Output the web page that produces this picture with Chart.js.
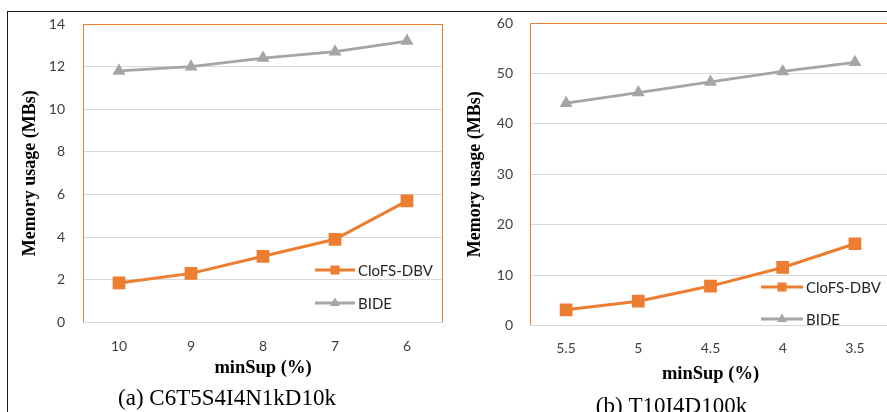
<!DOCTYPE html>
<html>
<head>
<meta charset="utf-8">
<script src="https://cdn.jsdelivr.net/npm/chart.js@4/dist/chart.umd.min.js"></script>
<style>
  html, body { margin: 0; padding: 0; background: #fff; width: 887px; height: 412px; overflow: hidden; }
  .frame { position: absolute; left: 7px; top: 11px; width: 900px; height: 420px;
           border-left: 1px solid #1a1a1a; border-top: 1px solid #1a1a1a; pointer-events: none; }
  canvas { position: absolute; }
  #chartA { left: 7px; top: 11px; }
  #chartB { left: 452px; top: 11px; }
</style>
</head>
<body>
<canvas id="chartA" width="445" height="402"></canvas>
<canvas id="chartB" width="466" height="410"></canvas>
<div class="frame"></div>
<script>
// (a) C6T5S4I4N1kD10k
const minSupA = ['10', '9', '8', '7', '6'];
const clofsA = [1.85, 2.3, 3.1, 3.9, 5.7];
const bideA = [11.8, 12.0, 12.4, 12.7, 13.2];
const yTicksA = [0, 2, 4, 6, 8, 10, 12, 14];

// (b) T10I4D100k
const minSupB = ['5.5', '5', '4.5', '4', '3.5'];
const clofsB = [3.1, 4.8, 7.8, 11.5, 16.2];
const bideB = [44.1, 46.2, 48.3, 50.4, 52.2];
const yTicksB = [0, 10, 20, 30, 40, 50, 60];

const ORANGE = '#ED7D31';
const GREY = '#A5A5A5';
const SANS = 'Lato, "Open Sans", sans-serif';
const SERIF = '"Liberation Serif", "DejaVu Serif", serif';

// orange plot-area outline (top, left, right; bottom is the 0 gridline)
const plotFrame = {
  id: 'plotFrame',
  beforeDatasetsDraw(chart) {
    const { ctx, chartArea: a } = chart;
    ctx.save();
    ctx.strokeStyle = ORANGE;
    ctx.lineWidth = 1;
    ctx.beginPath();
    ctx.moveTo(Math.round(a.left) + 0.5, Math.round(a.bottom));
    ctx.lineTo(Math.round(a.left) + 0.5, Math.round(a.top) + 0.5);
    ctx.lineTo(Math.round(a.right) - 0.5, Math.round(a.top) + 0.5);
    ctx.lineTo(Math.round(a.right) - 0.5, Math.round(a.bottom));
    ctx.stroke();
    ctx.restore();
  }
};

// legend drawn inside the plot, Excel style
const inlineLegend = {
  id: 'inlineLegend',
  afterDatasetsDraw(chart, args, opts) {
    const { ctx, chartArea: a } = chart;
    chart.data.datasets.forEach((ds, i) => {
      const x = a.left + opts.x;
      const y = a.top + opts.y + i * opts.gap;
      const mx = x + opts.len / 2;
      ctx.save();
      ctx.strokeStyle = ds.borderColor;
      ctx.lineWidth = 3;
      ctx.beginPath();
      ctx.moveTo(x, y);
      ctx.lineTo(x + opts.len, y);
      ctx.stroke();
      ctx.fillStyle = ds.borderColor;
      ctx.beginPath();
      if (ds.pointStyle === 'rect') {
        ctx.rect(mx - 4.5, y - 4.5, 9, 9);
      } else {
        ctx.moveTo(mx, y - 5.5);
        ctx.lineTo(mx + 5, y + 3);
        ctx.lineTo(mx - 5, y + 3);
        ctx.closePath();
      }
      ctx.fill();
      ctx.fillStyle = '#262626';
      ctx.font = '15px ' + SANS;
      ctx.textBaseline = 'middle';
      ctx.textAlign = 'left';
      ctx.fillText(ds.label, x + opts.len + 3, y + 1);
      ctx.restore();
    });
  }
};

function makeChart(id, labels, clofs, bide, yTicks, g) {
  return new Chart(document.getElementById(id), {
    type: 'line',
    data: {
      labels: labels,
      datasets: [
        { label: 'CloFS-DBV', data: clofs, borderColor: ORANGE, backgroundColor: ORANGE,
          borderWidth: 3, pointStyle: 'rect', pointRadius: 9, pointHoverRadius: 9, pointBorderWidth: 0 },
        { label: 'BIDE', data: bide, borderColor: GREY, backgroundColor: GREY,
          borderWidth: 2.75, pointStyle: 'triangle', pointRadius: 7.5, pointHoverRadius: 7.5, pointBorderWidth: 0 }
      ]
    },
    options: {
      responsive: false,
      animation: false,
      events: [],
      layout: { padding: { top: g.padTop, right: g.padRight, left: 0, bottom: 0 } },
      plugins: {
        legend: { display: false },
        tooltip: { enabled: false },
        title: {
          display: true, position: 'bottom', text: g.caption, color: '#000',
          font: { family: SERIF, size: 23, weight: 'normal' },
          padding: { top: 2, bottom: 0 }
        },
        inlineLegend: g.legend
      },
      scales: {
        x: {
          offset: true,
          grid: { display: false },
          border: { display: false },
          ticks: { color: '#404040', font: { family: SANS, size: 14 }, padding: g.xTickPad },
          title: { display: true, text: 'minSup (%)', color: '#000',
                   font: { family: SERIF, size: 18.5, weight: 'bold' }, padding: { top: 0, bottom: g.xTitlePad } },
          afterFit: (s) => { s.height = g.xHeight; }
        },
        y: {
          min: 0,
          max: yTicks[yTicks.length - 1],
          grid: { color: '#D9D9D9', lineWidth: 1, drawTicks: true, tickLength: g.yTickGap, tickColor: 'rgba(0,0,0,0)' },
          border: { display: false },
          ticks: { color: '#404040', font: { family: SANS, size: 14 }, padding: 0 },
          afterBuildTicks: (s) => { s.ticks = yTicks.map((v) => ({ value: v })); },
          title: { display: true, text: 'Memory usage (MBs)', color: '#000',
                   font: { family: SERIF, size: 18, weight: 'bold' }, padding: { top: 13, bottom: 0 } },
          afterFit: (s) => { s.width = g.yWidth; }
        }
      }
    },
    plugins: [plotFrame, inlineLegend]
  });
}

makeChart('chartA', minSupA, clofsA, bideA, yTicksA, {
  caption: '(a) C6T5S4I4N1kD10k',
  padTop: 13, padRight: 5, yWidth: 76, yTickGap: 18,
  xHeight: 61, xTickPad: 8, xTitlePad: 4,
  legend: { x: 232, y: 246, gap: 33, len: 40 }
});

makeChart('chartB', minSupB, clofsB, bideB, yTicksB, {
  caption: '(b) T10I4D100k',
  padTop: 12, padRight: 27, yWidth: 78, yTickGap: 17,
  xHeight: 66, xTickPad: 7, xTitlePad: 6,
  legend: { x: 231, y: 264, gap: 32, len: 42 }
});
</script>
</body>
</html>
